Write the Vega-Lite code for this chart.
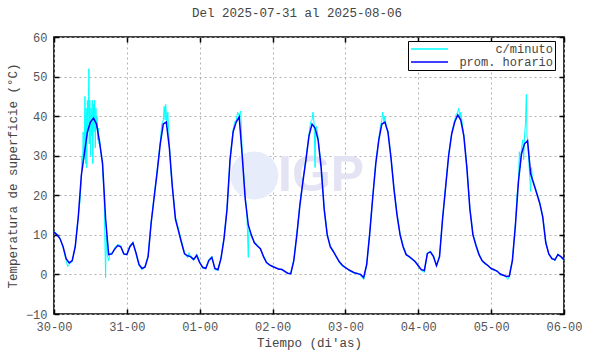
{
  "$schema": "https://vega.github.io/schema/vega-lite/v6.json",
  "width": 510,
  "height": 277,
  "autosize": {"type": "none"},
  "padding": {"left": 54, "top": 37, "right": 26, "bottom": 40},
  "background": "white",
  "title": {"text": "Del 2025-07-31 al 2025-08-06", "font": "Liberation Mono", "fontSize": 12.5, "fontWeight": "normal", "color": "#444444", "offset": 12, "dx": -12},
  "config": {
    "view": {"stroke": "#000000", "strokeWidth": 1.6},
    "axis": {"labelFont": "Liberation Mono", "labelFontSize": 12, "labelColor": "#555555", "titleFont": "Liberation Mono", "titleFontSize": 12.5, "titleFontWeight": "normal", "titleColor": "#444444", "tickColor": "#000000", "tickWidth": 1.5, "tickSize": -5, "domain": false, "gridColor": "#b0b0b0", "gridDash": [2, 3], "gridWidth": 1}
  },
  "datasets": {
    "horario": [
      {"h":0,"v":10.7},{"h":1,"v":10.0},{"h":2,"v":9.0},{"h":3,"v":7.0},{"h":4,"v":4.0},{"h":5,"v":2.9},{"h":6,"v":3.5},{"h":7,"v":7.0},{"h":8,"v":14.5},{"h":9,"v":25},{"h":10,"v":30.5},{"h":11,"v":36},{"h":12,"v":38.5},{"h":13,"v":39.5},{"h":14,"v":38},{"h":15,"v":33.5},{"h":16,"v":28},{"h":17,"v":14},{"h":18,"v":5.0},{"h":19,"v":5.2},{"h":20,"v":6.4},{"h":21,"v":7.3},{"h":22,"v":7.0},{"h":23,"v":5.2},
      {"h":24,"v":5.0},{"h":25,"v":7.0},{"h":26,"v":8.0},{"h":27,"v":5.5},{"h":28,"v":2.5},{"h":29,"v":1.5},{"h":30,"v":1.9},{"h":31,"v":4.5},{"h":32,"v":13},{"h":33,"v":19.5},{"h":34,"v":26},{"h":35,"v":33},{"h":36,"v":38},{"h":37,"v":38.5},{"h":38,"v":32},{"h":39,"v":22},{"h":40,"v":14},{"h":41,"v":11},{"h":42,"v":8.0},{"h":43,"v":5.2},{"h":44,"v":4.7},{"h":45,"v":4.5},{"h":46,"v":3.8},{"h":47,"v":4.8},
      {"h":48,"v":3.0},{"h":49,"v":1.8},{"h":50,"v":1.5},{"h":51,"v":3.5},{"h":52,"v":4.3},{"h":53,"v":1.5},{"h":54,"v":1.2},{"h":55,"v":4.0},{"h":56,"v":9},{"h":57,"v":16.5},{"h":58,"v":29},{"h":59,"v":36},{"h":60,"v":38.5},{"h":61,"v":39.8},{"h":62,"v":30},{"h":63,"v":19},{"h":64,"v":12.5},{"h":65,"v":10},{"h":66,"v":8.0},{"h":67,"v":7.2},{"h":68,"v":6.5},{"h":69,"v":4.5},{"h":70,"v":3.0},{"h":71,"v":2.4},
      {"h":72,"v":2.0},{"h":73,"v":1.7},{"h":74,"v":1.3},{"h":75,"v":1.3},{"h":76,"v":0.8},{"h":77,"v":0.3},{"h":78,"v":0.2},{"h":79,"v":3.5},{"h":80,"v":10},{"h":81,"v":17.5},{"h":82,"v":23.5},{"h":83,"v":29},{"h":84,"v":35},{"h":85,"v":38},{"h":86,"v":37},{"h":87,"v":34},{"h":88,"v":27},{"h":89,"v":16.5},{"h":90,"v":10},{"h":91,"v":7.0},{"h":92,"v":5.8},{"h":93,"v":4.5},{"h":94,"v":3.2},{"h":95,"v":2.3},
      {"h":96,"v":1.7},{"h":97,"v":1.2},{"h":98,"v":0.8},{"h":99,"v":0.4},{"h":100,"v":0.2},{"h":101,"v":0.0},{"h":102,"v":-0.8},{"h":103,"v":2.5},{"h":104,"v":10.3},{"h":105,"v":19.5},{"h":106,"v":28},{"h":107,"v":34},{"h":108,"v":38},{"h":109,"v":38.5},{"h":110,"v":36},{"h":111,"v":29.5},{"h":112,"v":21.5},{"h":113,"v":15},{"h":114,"v":10},{"h":115,"v":7},{"h":116,"v":5},{"h":117,"v":4.5},{"h":118,"v":3.9},{"h":119,"v":3.2},
      {"h":120,"v":2.2},{"h":121,"v":1.2},{"h":122,"v":1.0},{"h":123,"v":5.3},{"h":124,"v":5.7},{"h":125,"v":4.5},{"h":126,"v":2.2},{"h":127,"v":4.5},{"h":128,"v":14},{"h":129,"v":22},{"h":130,"v":30},{"h":131,"v":35.5},{"h":132,"v":38.5},{"h":133,"v":40.3},{"h":134,"v":39},{"h":135,"v":35},{"h":136,"v":27},{"h":137,"v":16.5},{"h":138,"v":10},{"h":139,"v":7.3},{"h":140,"v":5},{"h":141,"v":3.5},{"h":142,"v":2.8},{"h":143,"v":2.2},
      {"h":144,"v":1.5},{"h":145,"v":1.2},{"h":146,"v":0.8},{"h":147,"v":0.1},{"h":148,"v":-0.2},{"h":149,"v":-0.5},{"h":150,"v":-0.4},{"h":151,"v":3.5},{"h":152,"v":12.5},{"h":153,"v":23.5},{"h":154,"v":30.5},{"h":155,"v":33},{"h":156,"v":33.8},{"h":157,"v":25.5},{"h":158,"v":23},{"h":159,"v":20.5},{"h":160,"v":18},{"h":161,"v":14.5},{"h":162,"v":8},{"h":163,"v":5.2},{"h":164,"v":4.0},{"h":165,"v":3.7},{"h":166,"v":5.0},{"h":167,"v":4.5},{"h":168,"v":3.7}
    ],
    "minuto": [
      {"h":0,"v":10.9},{"h":1,"v":10.2},{"h":2,"v":9.2},{"h":3,"v":6.8},{"h":3.5,"v":5.0},{"h":4,"v":3.5},{"h":4.5,"v":2.0},{"h":5,"v":2.5},{"h":5.5,"v":3.0},{"h":6,"v":3.2},{"h":7,"v":7.2},{"h":8,"v":14.8},{"h":8.5,"v":18},{"h":9,"v":24},{"h":9.2,"v":30},{"h":9.4,"v":27},{"h":9.6,"v":36},{"h":9.8,"v":29},{"h":10.0,"v":33},{"h":10.2,"v":45},{"h":10.4,"v":28},{"h":10.6,"v":42},{"h":10.8,"v":27},{"h":11.0,"v":44},{"h":11.2,"v":36},{"h":11.4,"v":45},{"h":11.5,"v":52},{"h":11.6,"v":33},{"h":11.8,"v":44},{"h":12.0,"v":30},{"h":12.2,"v":42},{"h":12.4,"v":35},{"h":12.6,"v":44},{"h":12.8,"v":28},{"h":13.0,"v":43},{"h":13.2,"v":36},{"h":13.4,"v":44},{"h":13.6,"v":32},{"h":13.8,"v":42},{"h":14.0,"v":37},{"h":14.2,"v":40},{"h":14.4,"v":34},{"h":14.6,"v":37},{"h":14.8,"v":33},{"h":15.0,"v":34},{"h":15.4,"v":31},{"h":15.8,"v":29},{"h":16,"v":27},{"h":16.5,"v":20},{"h":17,"v":-0.8},{"h":17.2,"v":10},{"h":17.5,"v":5},{"h":18,"v":3.5},{"h":18.5,"v":5.5},{"h":19,"v":5},{"h":20,"v":6.8},{"h":21,"v":7.6},{"h":22,"v":7.2},{"h":23,"v":5},
      {"h":24,"v":5.2},{"h":25,"v":7.3},{"h":26,"v":8.2},{"h":27,"v":5.2},{"h":28,"v":2.2},{"h":29,"v":1.2},{"h":30,"v":2.2},{"h":31,"v":4.7},{"h":32,"v":13.2},{"h":33,"v":20},{"h":34,"v":26.5},{"h":35,"v":33.5},{"h":35.5,"v":38},{"h":36,"v":39},{"h":36.3,"v":42.5},{"h":36.6,"v":39},{"h":36.8,"v":43},{"h":37.2,"v":38},{"h":37.5,"v":41},{"h":38,"v":33},{"h":38.5,"v":26},{"h":39,"v":22},{"h":40,"v":14.5},{"h":41,"v":11.5},{"h":42,"v":8.5},{"h":43,"v":5.5},{"h":44,"v":4.2},{"h":44.5,"v":5.5},{"h":45,"v":4.3},{"h":46,"v":3.5},{"h":47,"v":5.2},
      {"h":48,"v":3.2},{"h":49,"v":1.5},{"h":50,"v":1.7},{"h":51,"v":3.8},{"h":52,"v":4.6},{"h":53,"v":1.2},{"h":54,"v":1.0},{"h":55,"v":4.2},{"h":56,"v":9.3},{"h":57,"v":16.8},{"h":58,"v":29.3},{"h":59,"v":36.5},{"h":59.5,"v":38.5},{"h":60,"v":39},{"h":60.5,"v":41},{"h":61,"v":40},{"h":61.5,"v":41.3},{"h":62,"v":31},{"h":62.5,"v":25},{"h":63,"v":19.5},{"h":63.5,"v":16},{"h":64,"v":4.3},{"h":64.2,"v":12},{"h":65,"v":9.5},{"h":66,"v":8.2},{"h":67,"v":7.5},{"h":68,"v":6.3},{"h":69,"v":4.8},{"h":70,"v":3.2},{"h":71,"v":2.2},
      {"h":72,"v":2.2},{"h":73,"v":1.5},{"h":74,"v":1.5},{"h":75,"v":1.1},{"h":76,"v":0.9},{"h":77,"v":0.1},{"h":78,"v":0.4},{"h":79,"v":3.8},{"h":80,"v":10.3},{"h":81,"v":17.8},{"h":82,"v":23.8},{"h":83,"v":29.3},{"h":84,"v":35.5},{"h":84.5,"v":38.5},{"h":85,"v":39},{"h":85.3,"v":41},{"h":85.7,"v":38},{"h":86,"v":27},{"h":86.2,"v":36},{"h":86.5,"v":37.5},{"h":87,"v":34.5},{"h":88,"v":27.3},{"h":89,"v":16.8},{"h":90,"v":10.3},{"h":91,"v":7.3},{"h":92,"v":6.0},{"h":93,"v":4.3},{"h":94,"v":3.0},{"h":95,"v":2.0},
      {"h":96,"v":1.9},{"h":97,"v":1.0},{"h":98,"v":0.6},{"h":99,"v":0.2},{"h":100,"v":0.4},{"h":101,"v":-0.3},{"h":102,"v":-1.3},{"h":103,"v":2.3},{"h":104,"v":10.6},{"h":105,"v":19.8},{"h":106,"v":28.3},{"h":107,"v":34.3},{"h":107.5,"v":37.5},{"h":108,"v":39},{"h":108.3,"v":41},{"h":108.7,"v":38.5},{"h":109,"v":40},{"h":109.5,"v":37},{"h":110,"v":36.3},{"h":111,"v":29.8},{"h":112,"v":21.8},{"h":113,"v":15.3},{"h":114,"v":10.3},{"h":115,"v":7.3},{"h":116,"v":5.3},{"h":117,"v":4.3},{"h":118,"v":3.7},{"h":119,"v":3.4},
      {"h":120,"v":2.0},{"h":121,"v":1.0},{"h":122,"v":0.5},{"h":123,"v":5.5},{"h":124,"v":5.9},{"h":125,"v":4.8},{"h":126,"v":2.0},{"h":127,"v":4.8},{"h":128,"v":14.3},{"h":129,"v":22.3},{"h":130,"v":30.3},{"h":131,"v":35.8},{"h":132,"v":39},{"h":132.5,"v":40.5},{"h":133,"v":41},{"h":133.3,"v":42},{"h":133.7,"v":39.5},{"h":134,"v":41},{"h":134.5,"v":38},{"h":135,"v":35.3},{"h":136,"v":27.3},{"h":137,"v":16.8},{"h":138,"v":10.3},{"h":139,"v":7.6},{"h":140,"v":5.3},{"h":141,"v":3.3},{"h":142,"v":2.6},{"h":143,"v":2.4},
      {"h":144,"v":1.3},{"h":145,"v":1.0},{"h":146,"v":1.0},{"h":147,"v":-0.2},{"h":148,"v":0},{"h":149,"v":-0.8},{"h":149.5,"v":-1.3},{"h":150,"v":-0.2},{"h":151,"v":3.8},{"h":152,"v":12.8},{"h":152.5,"v":20},{"h":153,"v":24},{"h":153.3,"v":31},{"h":153.6,"v":27},{"h":154,"v":32},{"h":154.4,"v":34},{"h":154.7,"v":29},{"h":155,"v":35},{"h":155.3,"v":38},{"h":155.6,"v":45.5},{"h":155.8,"v":35},{"h":156,"v":34},{"h":156.3,"v":30},{"h":156.6,"v":26},{"h":157,"v":21},{"h":157.3,"v":27},{"h":157.6,"v":24},{"h":158,"v":23.3},{"h":159,"v":20.8},{"h":160,"v":18.3},{"h":161,"v":14.8},{"h":162,"v":8.3},{"h":163,"v":5.0},{"h":164,"v":4.3},{"h":165,"v":3.4},{"h":166,"v":5.2},{"h":167,"v":4.3},{"h":168,"v":3.5}
    ]
  },
  "layer": [
    {
      "data": {"values": [{"h": 66, "v": 25}]},
      "mark": {"type": "point", "filled": true, "size": 2300, "color": "#e6ecf9", "opacity": 1},
      "encoding": {
        "x": {"field": "h", "type": "quantitative", "scale": {"domain": [0, 168]}, "axis": null},
        "y": {"field": "v", "type": "quantitative", "scale": {"domain": [-10, 60]}, "axis": null}
      }
    },
    {
      "data": {"values": [{"h": 88, "v": 25, "txt": "IGP"}]},
      "mark": {"type": "text", "font": "Liberation Sans", "fontSize": 50, "fontWeight": "bold", "color": "#e3e3f3"},
      "encoding": {
        "x": {"field": "h", "type": "quantitative", "axis": null},
        "y": {"field": "v", "type": "quantitative", "axis": null},
        "text": {"field": "txt"}
      }
    },
    {
      "data": {"name": "minuto"},
      "mark": {"type": "line", "strokeWidth": 1, "interpolate": "linear"},
      "encoding": {
        "x": {"field": "h", "type": "quantitative", "scale": {"domain": [0, 168], "nice": false},
              "axis": {"orient": "bottom", "values": [0, 24, 48, 72, 96, 120, 144, 168], "labelExpr": "['30-00','31-00','01-00','02-00','03-00','04-00','05-00','06-00'][round(datum.value/24)]", "title": "Tiempo (di'as)", "grid": true, "labelPadding": 12, "titlePadding": 4, "labelFlush": false}},
        "y": {"field": "v", "type": "quantitative", "scale": {"domain": [-10, 60], "nice": false},
              "axis": {"orient": "left", "values": [-10, 0, 10, 20, 30, 40, 50, 60], "title": "Temperatura de superficie (°C)", "grid": true, "labelPadding": 12, "titlePadding": 6}},
        "color": {"datum": "c/minuto", "type": "nominal",
                  "scale": {"domain": ["c/minuto", "prom. horario"], "range": ["#00ffff", "#0000ff"]},
                  "legend": {"orient": "none", "legendX": 354, "legendY": 4, "title": null, "symbolType": "stroke", "symbolSize": 1369, "symbolStrokeWidth": 1.3, "clipHeight": 12, "labelAlign": "right", "labelOffset": 104, "labelFont": "Liberation Mono", "labelFontSize": 12, "labelColor": "#444444", "strokeColor": "#000000", "fillColor": "#ffffff", "padding": 2, "rowPadding": 1}}
      }
    },
    {
      "data": {"name": "horario"},
      "mark": {"type": "line", "strokeWidth": 1.5, "interpolate": "linear"},
      "encoding": {
        "x": {"field": "h", "type": "quantitative",
              "axis": {"orient": "top", "values": [0, 24, 48, 72, 96, 120, 144, 168], "labels": false, "title": null, "grid": false}},
        "y": {"field": "v", "type": "quantitative",
              "axis": {"orient": "right", "values": [-10, 0, 10, 20, 30, 40, 50, 60], "labels": false, "title": null, "grid": false}},
        "color": {"datum": "prom. horario", "type": "nominal"}
      }
    }
  ],
  "resolve": {"axis": {"x": "independent", "y": "independent"}}
}
